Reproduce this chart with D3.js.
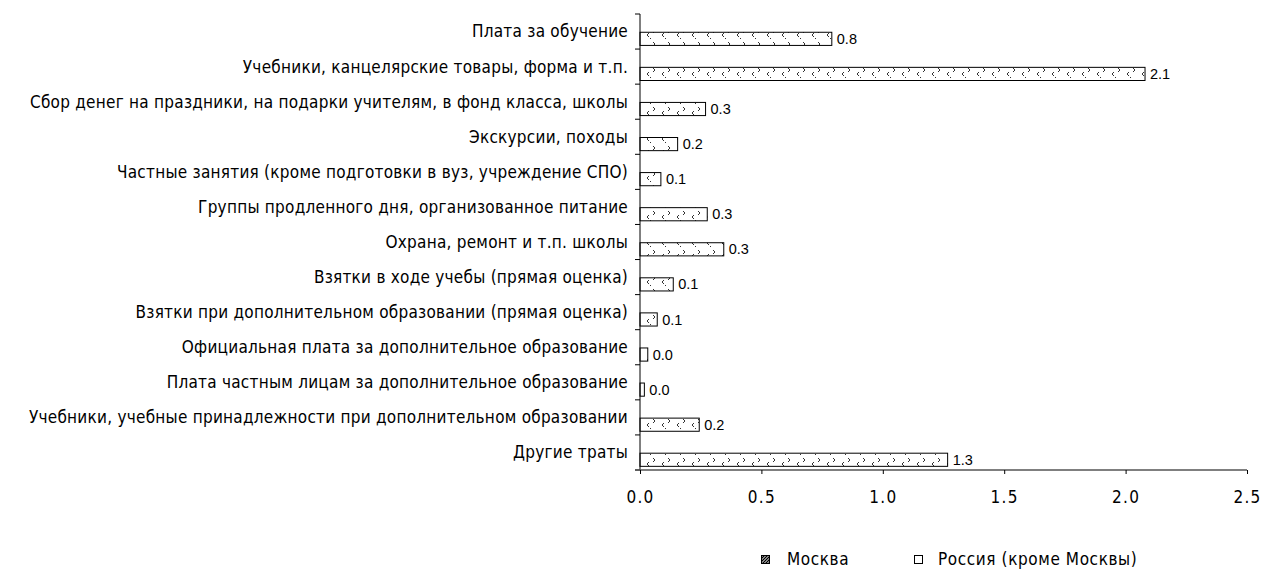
<!DOCTYPE html>
<html><head><meta charset="utf-8">
<script src="https://cdn.jsdelivr.net/npm/d3@7"></script>
<style>
body{margin:0;background:#fff;}
svg{display:block;}
.cat{font-family:"DejaVu Sans Condensed","DejaVu Sans";font-stretch:condensed;font-size:17px;letter-spacing:0.25px;fill:#000;}
.val{font-family:"Liberation Sans Narrow","Liberation Sans";font-stretch:condensed;font-size:14.5px;fill:#000;}
.tick text{font-family:"DejaVu Sans Condensed","DejaVu Sans";font-stretch:condensed;font-size:17px;}
.leg{font-family:"DejaVu Sans Condensed","DejaVu Sans";font-stretch:condensed;font-size:17px;letter-spacing:0.6px;fill:#000;}
</style></head>
<body>
<script>
const categories = [
  "Плата за обучение",
  "Учебники, канцелярские товары, форма и т.п.",
  "Сбор денег на праздники, на подарки учителям, в фонд класса, школы",
  "Экскурсии, походы",
  "Частные занятия (кроме подготовки в вуз, учреждение СПО)",
  "Группы продленного дня, организованное питание",
  "Охрана, ремонт и т.п. школы",
  "Взятки в ходе учебы (прямая оценка)",
  "Взятки при дополнительном образовании (прямая оценка)",
  "Официальная плата за дополнительное образование",
  "Плата частным лицам за дополнительное образование",
  "Учебники, учебные принадлежности при дополнительном образовании",
  "Другие траты"
];
const seriesNames = ["Москва", "Россия (кроме Москвы)"];
const values = [0.79, 2.08, 0.27, 0.155, 0.086, 0.277, 0.345, 0.137, 0.071, 0.032, 0.018, 0.244, 1.267];
const xTicks = [0, 0.5, 1.0, 1.5, 2.0, 2.5];

const W = 1271, H = 569;
const svg = d3.select("body").append("svg").attr("width", W).attr("height", H);

const defs = svg.append("defs");
const pat = defs.append("pattern").attr("id","pat").attr("patternUnits","userSpaceOnUse")
  .attr("width",15).attr("height",13).attr("y",1);
pat.append("rect").attr("width",15).attr("height",13).attr("fill","#fff");
pat.append("path").attr("d","M8,2 L10,4 L8,6").attr("fill","none").attr("stroke","#333").attr("stroke-width",1);
pat.append("path").attr("d","M4,6 L2,8 L4,10").attr("fill","none").attr("stroke","#333").attr("stroke-width",1);
pat.append("rect").attr("x",5).attr("y",11).attr("width",1).attr("height",1).attr("fill","#333");
const hatch = defs.append("pattern").attr("id","hatch").attr("patternUnits","userSpaceOnUse")
  .attr("width",3).attr("height",3);
hatch.append("rect").attr("width",3).attr("height",3).attr("fill","#fff");
hatch.append("path").attr("d","M0,3 L3,0 M-1,1 L1,-1 M2,4 L4,2").attr("stroke","#000").attr("stroke-width",1.4);

const mLeft = 640, mTop = 14, mBottom = 470, mRight = 1247;
const x = d3.scaleLinear().domain([0, 2.5]).range([mLeft, mRight]);
const y = d3.scaleBand().domain(categories).range([mTop, mBottom]).paddingInner(0).paddingOuter(0);
const ys = d3.scaleBand().domain(seriesNames).range([0, y.bandwidth()]).paddingInner(0.1).paddingOuter(0.25);

const fmt = d3.format(".1f");

svg.append("g").selectAll("rect").data(values).join("rect")
  .attr("x", x(0))
  .attr("y", (d,i) => y(categories[i]) + ys(seriesNames[1]))
  .attr("width", d => x(d) - x(0))
  .attr("height", ys.bandwidth())
  .attr("fill","url(#pat)").attr("stroke","#000").attr("stroke-width",1);

svg.append("g").selectAll("text").data(values).join("text")
  .attr("class","val")
  .attr("x", d => x(d) + 5)
  .attr("y", (d,i) => y(categories[i]) + ys(seriesNames[1]) + ys.bandwidth()/2)
  .attr("dy","0.35em")
  .text(d => fmt(d));

const gy = svg.append("g");
gy.append("line").attr("x1",mLeft).attr("x2",mLeft).attr("y1",mTop).attr("y2",mBottom).attr("stroke","#000");
const bounds = categories.map(c => y(c)).concat([mBottom]);
gy.selectAll("line.t").data(bounds).join("line").attr("class","t")
  .attr("x1",mLeft-5).attr("x2",mLeft).attr("y1",d=>d).attr("y2",d=>d).attr("stroke","#000");
gy.selectAll("text").data(categories).join("text").attr("class","cat")
  .attr("x", mLeft-12).attr("y", d => y(d) + y.bandwidth()/2).attr("dy","0.35em")
  .attr("text-anchor","end").text(d => d);

const gx = svg.append("g").attr("transform",`translate(0,${mBottom})`)
  .call(d3.axisBottom(x).tickValues(xTicks).tickFormat(d3.format(".1f")).tickSize(4).tickPadding(17));
gx.select(".domain").attr("d",`M${mLeft-5},0H${mRight}`).attr("stroke","#555").attr("stroke-width",1.5);
gx.selectAll(".tick line").attr("stroke","#000");
gx.selectAll(".tick text").attr("fill","#000").style("letter-spacing","1.3px");

const lg = svg.append("g");
lg.append("rect").attr("x",761.5).attr("y",555.5).attr("width",8).attr("height",8).attr("fill","url(#hatch)").attr("stroke","#000");
lg.append("text").attr("class","leg").attr("x",787).attr("y",559).attr("dy","0.35em").text(seriesNames[0]);
lg.append("rect").attr("x",914.5).attr("y",555.5).attr("width",8).attr("height",8).attr("fill","#fff").attr("stroke","#000");
lg.append("text").attr("class","leg").attr("x",938).attr("y",559).attr("dy","0.35em").text(seriesNames[1]);
</script>
</body></html>
